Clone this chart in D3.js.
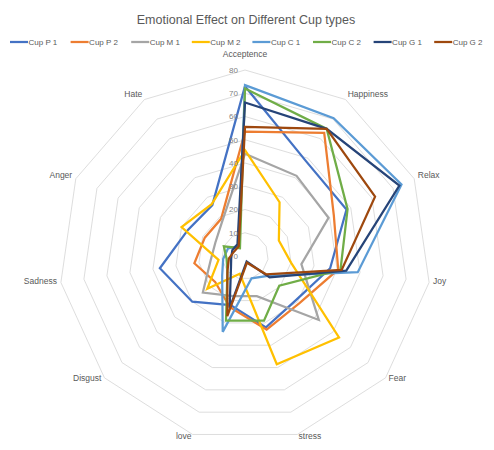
<!DOCTYPE html>
<html>
<head>
<meta charset="utf-8">
<script src="https://cdn.jsdelivr.net/npm/d3@7"></script>
<style>
  html, body { margin: 0; padding: 0; background: #fff; }
  svg { display: block; font-family: "Liberation Sans", Arial, sans-serif; }
</style>
</head>
<body>
<svg id="chart" width="494" height="450"></svg>
<script>
// Axes of the radar, clockwise from the top
const categories = ["Acceptence", "Happiness", "Relax", "Joy", "Fear", "stress",
                    "love", "Disgust", "Sadness", "Anger", "Hate"];

// Scores per cup, in the same order as the categories
const cupP1 = [73, 48.5, 48, 37, 29, 32, 22, 30, 37, 27, 26];
const cupP2 = [53.5, 63, 42, 40.5, 31, 33, 23, 17, 22, 19, 19];
const cupM1 = [44, 41, 39.5, 24.5, 42, 18, 18, 24, 15, 14, 18];
const cupM2 = [45.5, 27.5, 16, 20, 53.5, 48.5, 8, 21.5, 11.5, 30, 26.5];
const cupC1 = [73.5, 70.5, 74, 49, 13, 10, 34, 13, 9.5, 8, 5];
const cupC2 = [72, 65, 48.5, 41.5, 19.5, 29, 29, 10, 8, 10, 4];
const cupG1 = [66, 65, 73, 44, 14, 2.5, 23.5, 8, 6, 6, 6];
const cupG2 = [55.5, 65, 61.5, 42, 12, 3, 27, 10, 7, 5, 5];

const seriesNames = ["Cup P 1", "Cup P 2", "Cup M 1", "Cup M 2", "Cup C 1", "Cup C 2", "Cup G 1", "Cup G 2"];
const seriesValues = [cupP1, cupP2, cupM1, cupM2, cupC1, cupC2, cupG1, cupG2];
const seriesColors = ["#4472C4", "#ED7D31", "#A5A5A5", "#FFC000", "#5B9BD5", "#70AD47", "#264478", "#9E480E"];

// Value axis ticks
const tickValues = [0, 10, 20, 30, 40, 50, 60, 70, 80];

const svg = d3.select("#chart");
const cx = 245, cy = 256, radius = 186;

const r = d3.scaleLinear().domain([0, 80]).range([0, radius]);
const angle = d3.scaleLinear().domain([0, categories.length]).range([0, 2 * Math.PI]);

const g = svg.append("g").attr("transform", `translate(${cx},${cy})`);

// Title
svg.append("text")
  .attr("x", 246).attr("y", 24)
  .attr("text-anchor", "middle")
  .attr("fill", "#595959")
  .style("font-size", "12.5px")
  .text("Emotional Effect on Different Cup types");

// Legend
const legend = svg.append("g").attr("transform", "translate(10,42)");
const legendStep = 60.6;
seriesNames.forEach((name, i) => {
  const item = legend.append("g").attr("transform", `translate(${i * legendStep},0)`);
  item.append("line")
    .attr("x1", 0).attr("x2", 18).attr("y1", 0).attr("y2", 0)
    .attr("stroke", seriesColors[i]).attr("stroke-width", 2.25);
  item.append("text")
    .attr("x", 18.5).attr("y", 0).attr("dy", "0.35em")
    .attr("fill", "#595959")
    .style("font-size", "8px")
    .text(name);
});

// Concentric grid polygons
const ring = d3.lineRadial()
  .angle((d, i) => angle(i))
  .radius(d => r(d))
  .curve(d3.curveLinearClosed);

g.selectAll("path.grid")
  .data(tickValues.filter(t => t > 0))
  .join("path")
  .attr("class", "grid")
  .attr("d", t => ring(categories.map(() => t)))
  .attr("fill", "none")
  .attr("stroke", "#d9d9d9")
  .attr("stroke-width", 0.9);

// Category labels
const labelRadius = radius + 4;
g.selectAll("text.cat")
  .data(categories)
  .join("text")
  .attr("class", "cat")
  .each(function (d, i) {
    const a = angle(i);
    const s = Math.sin(a), c = -Math.cos(a);
    const rr = i === 0 ? radius + 14 : labelRadius;
    d3.select(this)
      .attr("x", rr * s)
      .attr("y", rr * c - 2)
      .attr("dy", "0.35em")
      .attr("text-anchor", Math.abs(s) < 0.1 ? "middle" : (s > 0 ? "start" : "end"));
  })
  .attr("fill", "#595959")
  .style("font-size", "8.5px")
  .text(d => d);

// Series outlines
const seriesLine = d3.lineRadial()
  .angle((d, i) => angle(i))
  .radius(d => r(d))
  .curve(d3.curveLinearClosed);

g.selectAll("path.series")
  .data(seriesValues)
  .join("path")
  .attr("class", "series")
  .attr("d", d => seriesLine(d))
  .attr("fill", "none")
  .attr("stroke", (d, i) => seriesColors[i])
  .attr("stroke-width", 2.25)
  .attr("stroke-linejoin", "miter");

// Value axis tick labels along the first spoke
g.selectAll("text.tick")
  .data(tickValues)
  .join("text")
  .attr("class", "tick")
  .attr("x", -7)
  .attr("y", d => -r(d))
  .attr("dy", "0.35em")
  .attr("text-anchor", "end")
  .attr("fill", "#7f7f7f")
  .style("font-size", "8px")
  .text(d => d);
</script>
</body>
</html>
